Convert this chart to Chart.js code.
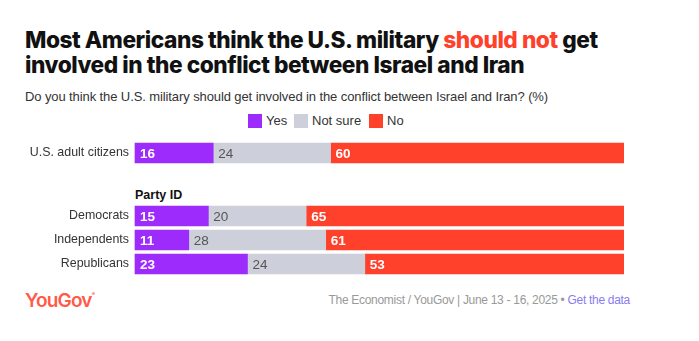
<!DOCTYPE html>
<html>
<head>
<meta charset="utf-8">
<script src="https://cdn.jsdelivr.net/npm/chart.js@4"></script>
<style>
  html, body { margin: 0; padding: 0; background: #fff; }
  body { width: 699px; height: 341px; position: relative; overflow: hidden; font-family: "Liberation Sans", Arial, sans-serif; }
  #title { position: absolute; left: 25px; top: 27px; width: 670px; font-family: Inter, "Liberation Sans", sans-serif; font-weight: 800; font-size: 22.7px; line-height: 25px; letter-spacing: -0.45px; color: #111; }
  #title .hl { color: #ff412c; }
  #subtitle { position: absolute; left: 25px; top: 89px; font-size: 13px; color: #333; letter-spacing: -0.1px; }
  #legend { position: absolute; left: 248px; top: 114px; font-size: 13px; color: #333; }
  .li { position: absolute; top: 0; white-space: nowrap; }
  .sw { display: inline-block; width: 14px; height: 14px; vertical-align: top; }
  .lt { position: absolute; top: -1px; left: 18px; }
  #partyid { position: absolute; left: 135px; top: 188px; font-weight: bold; font-size: 12.5px; color: #111; }
  #c1wrap { position: absolute; left: 0; top: 133px; width: 624px; height: 40px; }
  #c2wrap { position: absolute; left: 0; top: 194px; width: 624px; height: 92px; }
  #logo { position: absolute; left: 25px; top: 289px; font-family: Inter, "Liberation Sans", sans-serif; font-weight: 600; font-size: 19px; color: #ff5a4a; letter-spacing: -0.8px; }
  #logo sup { font-size: 5px; vertical-align: top; position: relative; top: 2px; letter-spacing: 0; }
  #source { position: absolute; right: 69px; top: 293px; font-size: 12px; color: #999; letter-spacing: -0.3px; }
  #source .gd { color: #8a7cf0; }
</style>
</head>
<body>
<div id="title">Most Americans think the U.S. military <span class="hl">should not</span> get<br>involved in the conflict between Israel and Iran</div>
<div id="subtitle">Do you think the U.S. military should get involved in the conflict between Israel and Iran? (%)</div>
<div id="legend"></div>
<div id="partyid">Party ID</div>
<div id="c1wrap"><canvas id="c1"></canvas></div>
<div id="c2wrap"><canvas id="c2"></canvas></div>
<div id="logo">YouGov<sup>®</sup></div>
<div id="source">The Economist / YouGov | June 13 - 16, 2025 • <span class="gd">Get the data</span></div>
<script>
// ---- Data ----
const seriesNames = ["Yes", "Not sure", "No"];
const seriesColors = ["#9d2bfc", "#cdd0da", "#ff412c"];
const labelColors = ["#ffffff", "#555555", "#ffffff"];

const overallCategories = ["U.S. adult citizens"];
const overallYes = [16];
const overallNotSure = [24];
const overallNo = [60];

const partyCategories = ["Democrats", "Independents", "Republicans"];
const partyYes = [15, 11, 23];
const partyNotSure = [20, 28, 24];
const partyNo = [65, 61, 53];

// ---- Legend (HTML) ----
const legendOffsets = [0, 46, 121];
const legend = document.getElementById('legend');
seriesNames.forEach((n, i) => {
  const d = document.createElement('div');
  d.className = 'li';
  d.style.left = legendOffsets[i] + 'px';
  d.innerHTML = '<span class="sw" style="background:' + seriesColors[i] + '"></span><span class="lt">' + n + '</span>';
  legend.appendChild(d);
});

const valueLabels = {
  id: 'valueLabels',
  afterDatasetsDraw(chart) {
    const ctx = chart.ctx;
    ctx.save();
    chart.data.datasets.forEach((ds, di) => {
      const meta = chart.getDatasetMeta(di);
      meta.data.forEach((el, i) => {
        const v = ds.data[i];
        const left = Math.min(el.base, el.x);
        ctx.fillStyle = labelColors[di];
        ctx.font = (di === 1 ? '400 ' : '600 ') + '13.5px "Liberation Sans", Arial, sans-serif';
        ctx.textBaseline = 'middle';
        ctx.textAlign = 'left';
        ctx.fillText(String(v), left + 5, el.y + 1);
      });
    });
    ctx.restore();
  }
};

function makeChart(id, cats, yes, ns, no) {
  const vals = [yes, ns, no];
  return new Chart(document.getElementById(id), {
    type: 'bar',
    data: {
      labels: cats,
      datasets: seriesNames.map((n, i) => ({
        label: n,
        data: vals[i],
        backgroundColor: seriesColors[i],
        borderWidth: 0,
        barThickness: 20,
        clip: false
      }))
    },
    options: {
      indexAxis: 'y',
      responsive: true,
      maintainAspectRatio: false,
      animation: false,
      layout: { padding: { top: 10, bottom: 10, left: 0, right: 0 } },
      plugins: { legend: { display: false }, tooltip: { enabled: false } },
      scales: {
        x: { stacked: true, min: 0, max: 100, display: false },
        y: {
          stacked: true,
          grid: { display: false, drawTicks: false },
          border: { display: false },
          ticks: { color: '#333', font: { size: 12.4, family: '"Liberation Sans", Arial, sans-serif' }, padding: 6 },
          afterFit(scale) { scale.width = 135; scale.paddingTop = 0; scale.paddingBottom = 0; }
        }
      }
    },
    plugins: [valueLabels]
  });
}

makeChart('c1', overallCategories, overallYes, overallNotSure, overallNo);
makeChart('c2', partyCategories, partyYes, partyNotSure, partyNo);
</script>
</body>
</html>
